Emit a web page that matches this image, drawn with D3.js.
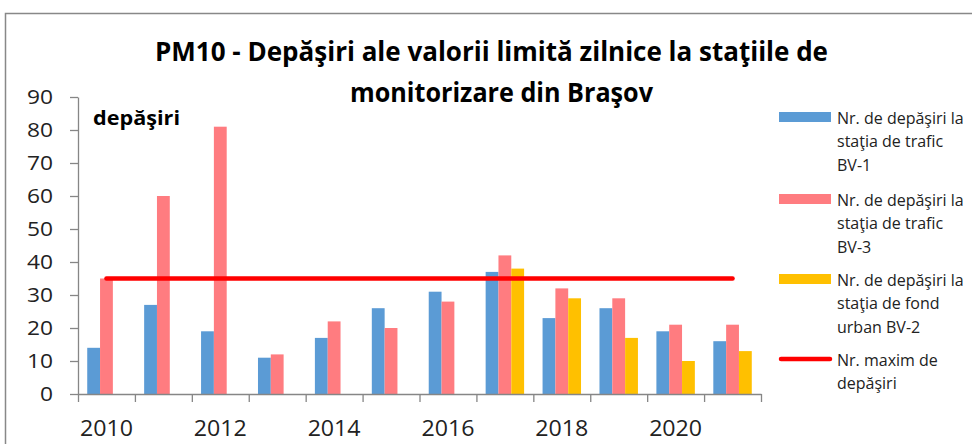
<!DOCTYPE html>
<html>
<head>
<meta charset="utf-8">
<script src="https://cdn.jsdelivr.net/npm/d3@7"></script>
<style>
  body { margin: 0; background: #fff; }
  svg { display: block; font-family: "Open Sans", sans-serif; }
</style>
</head>
<body>
<svg id="chart" width="972" height="444"></svg>
<script>
// values
var years = [2010, 2011, 2012, 2013, 2014, 2015, 2016, 2017, 2018, 2019, 2020, 2021];
var bv1 = [14, 27, 19, 11, 17, 26, 31, 37, 23, 26, 19, 16];
var bv3 = [35, 60, 81, 12, 22, 20, 28, 42, 32, 29, 21, 21];
var bv2 = [null, null, null, null, null, null, null, 38, 29, 17, 10, 13];
var maxim = [35, 35, 35, 35, 35, 35, 35, 35, 35, 35, 35, 35];
var yTicks = [0, 10, 20, 30, 40, 50, 60, 70, 80, 90];
var xLabels = [2010, 2012, 2014, 2016, 2018, 2020];

var seriesNames = ["bv1", "bv3", "bv2"];
var colors = { bv1: "#5B9BD5", bv3: "#FF7C80", bv2: "#FFC000", maxim: "#FF0000" };
var legendItems = [
  { key: "bv1", type: "bar", lines: ["Nr. de depăşiri la", "staţia de trafic", "BV-1"] },
  { key: "bv3", type: "bar", lines: ["Nr. de depăşiri la", "staţia de trafic", "BV-3"] },
  { key: "bv2", type: "bar", lines: ["Nr. de depăşiri la", "staţia de fond", "urban BV-2"] },
  { key: "maxim", type: "line", lines: ["Nr. maxim de", "depăşiri"] }
];

var svg = d3.select("#chart");
var axisColor = "#868686";

// outer frame
svg.append("rect")
  .attr("x", 5.5).attr("y", 13.5)
  .attr("width", 980).attr("height", 460)
  .attr("fill", "#fff")
  .attr("stroke", "#888").attr("stroke-width", 1.5);

var plotLeft = 78, plotRight = 761, plotTop = 97, plotBottom = 394;

var x = d3.scaleBand().domain(years).range([plotLeft, plotRight]);
var xs = d3.scaleBand().domain(seriesNames).range([0, x.bandwidth()]).paddingOuter(0.72);
var xi = d3.scaleLinear().domain([0, years.length]).range([plotLeft, plotRight]);
var y = d3.scaleLinear().domain([0, 90]).range([plotBottom, plotTop]);

var values = { bv1: bv1, bv3: bv3, bv2: bv2 };

// bars
var groups = svg.append("g").selectAll("g")
  .data(years)
  .join("g")
  .attr("transform", function(d){ return "translate(" + x(d) + ",0)"; });

groups.selectAll("rect")
  .data(function(d, i){
    return seriesNames.map(function(k){ return { key: k, v: values[k][i] }; })
      .filter(function(e){ return e.v != null; });
  })
  .join("rect")
  .attr("x", function(d){ return xs(d.key); })
  .attr("width", xs.bandwidth())
  .attr("y", function(d){ return y(d.v); })
  .attr("height", function(d){ return y(0) - y(d.v); })
  .attr("fill", function(d){ return colors[d.key]; });

// y axis
var yAxis = svg.append("g")
  .attr("transform", "translate(" + plotLeft + ",0)")
  .call(d3.axisLeft(y).tickValues(yTicks).tickSize(8).tickSizeOuter(0).tickPadding(17));
yAxis.selectAll("text")
  .attr("fill", "#222")
  .attr("font-size", 20)
  .attr("font-family", "Open Sans, sans-serif")
  .attr("textLength", function(d){ return String(d).length * 13; })
  .attr("lengthAdjust", "spacingAndGlyphs");

// x axis: ticks on category boundaries
svg.append("g")
  .attr("transform", "translate(0," + plotBottom + ")")
  .call(d3.axisBottom(xi).tickValues(d3.range(years.length + 1)).tickSize(8).tickSizeOuter(0).tickFormat(""));

svg.selectAll(".domain, .tick line").attr("stroke", axisColor).attr("stroke-width", 1.3);

svg.append("g").selectAll("text")
  .data(xLabels)
  .join("text")
  .attr("x", function(d){ return x(d) + x.bandwidth() / 2; })
  .attr("y", 436)
  .attr("text-anchor", "middle")
  .attr("font-size", 21)
  .attr("fill", "#222")
  .attr("textLength", 53)
  .attr("lengthAdjust", "spacingAndGlyphs")
  .text(function(d){ return d; });

// limit line
var line = d3.line()
  .x(function(d, i){ return x(years[i]) + x.bandwidth() / 2; })
  .y(function(d){ return y(d); });
svg.append("path")
  .datum(maxim)
  .attr("d", line)
  .attr("fill", "none")
  .attr("stroke", colors.maxim)
  .attr("stroke-width", 4.5)
  .attr("stroke-linecap", "round");

// title
var title = svg.append("g").attr("font-weight", "bold").attr("fill", "#000").attr("font-size", 26);
title.append("text").attr("x", 491.5).attr("y", 61).attr("text-anchor", "middle")
  .attr("textLength", 673).attr("lengthAdjust", "spacingAndGlyphs")
  .text("PM10 - Depăşiri ale valorii limită zilnice la staţiile de");
title.append("text").attr("x", 501.5).attr("y", 102).attr("text-anchor", "middle")
  .attr("textLength", 303).attr("lengthAdjust", "spacingAndGlyphs")
  .text("monitorizare din Braşov");

svg.append("text")
  .attr("x", 93).attr("y", 125)
  .attr("font-weight", "bold").attr("font-size", 20)
  .attr("textLength", 87).attr("lengthAdjust", "spacingAndGlyphs")
  .text("depăşiri");

// legend
var legendY = [118, 200, 280, 360];
var leg = svg.append("g").selectAll("g")
  .data(legendItems)
  .join("g")
  .attr("transform", function(d, i){ return "translate(0," + legendY[i] + ")"; });

leg.filter(function(d){ return d.type === "bar"; })
  .append("rect")
  .attr("x", 779).attr("y", -6).attr("width", 52).attr("height", 10)
  .attr("fill", function(d){ return colors[d.key]; });

leg.filter(function(d){ return d.type === "line"; })
  .append("line")
  .attr("x1", 781).attr("x2", 830).attr("y1", -1).attr("y2", -1)
  .attr("stroke", function(d){ return colors[d.key]; })
  .attr("stroke-width", 4.5)
  .attr("stroke-linecap", "round");

leg.selectAll("text")
  .data(function(d){ return d.lines; })
  .join("text")
  .attr("x", 837)
  .attr("y", function(d, i){ return 5.5 + i * 23.5; })
  .attr("font-size", 16)
  .attr("fill", "#222")
  .text(function(d){ return d; });
</script>
</body>
</html>
